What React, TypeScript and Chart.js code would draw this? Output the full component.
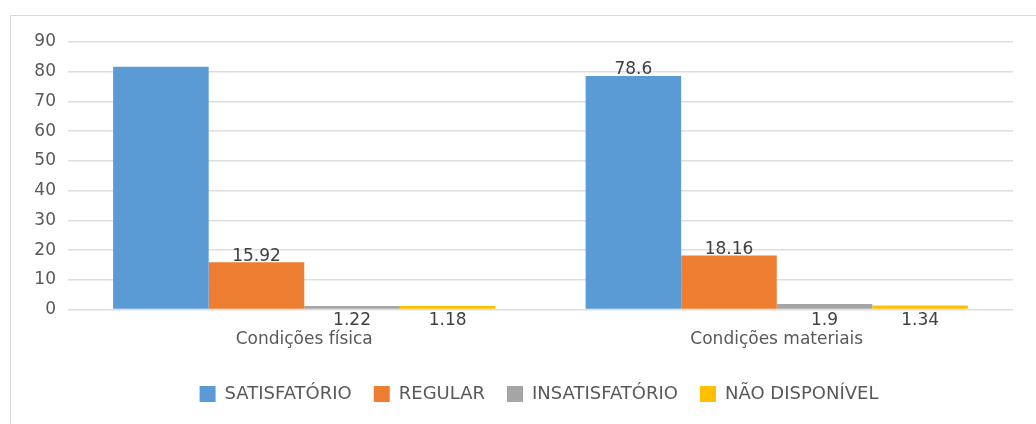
import React, { useEffect, useRef } from "react";
import { Chart, registerables } from "chart.js";

Chart.register(...registerables);

const categories = ["Condições física", "Condições materiais"];
const seriesNames = ["SATISFATÓRIO", "REGULAR", "INSATISFATÓRIO", "NÃO DISPONÍVEL"];
const satisfatorio = [81.68, 78.6];
const regular = [15.92, 18.16];
const insatisfatorio = [1.22, 1.9];
const naoDisponivel = [1.18, 1.34];
const satisfatorioShow = [false, true];
const regularShow = [true, true];
const insatisfatorioShow = [true, true];
const naoDisponivelShow = [true, true];
const seriesColors = ["#5B9BD5", "#ED7D31", "#A5A5A5", "#FFC000"];
const yMin = 0;
const yMax = 90;
const yStep = 10;

const FONT = "DejaVu Sans";

const valueLabelPlugin = {
  id: "valueLabels",
  afterDatasetsDraw(chart: any) {
    const ctx = chart.ctx;
    ctx.save();
    ctx.font = `17px "${FONT}"`;
    ctx.fillStyle = "#404040";
    ctx.textAlign = "center";
    ctx.textBaseline = "middle";
    chart.data.datasets.forEach((ds: any, i: number) => {
      const meta = chart.getDatasetMeta(i);
      meta.data.forEach((bar: any, j: number) => {
        if (!ds.showLabel[j]) return;
        const v = ds.data[j];
        const { x, y, base } = bar.getProps(["x", "y", "base"], true);
        const ty = v > 5 ? y - 6 : base + 12;
        ctx.fillText(String(v), x, ty);
      });
    });
    ctx.restore();
  },
};

const legendShiftPlugin = {
  id: "legendShift",
  afterLayout(chart: any) {
    const lg = chart.legend;
    if (lg) {
      lg.left += 27;
      lg.right += 27;
    }
  },
};

export default function App() {
  const ref = useRef<HTMLCanvasElement | null>(null);
  useEffect(() => {
    if (!ref.current) return;
    const values = [satisfatorio, regular, insatisfatorio, naoDisponivel];
    const shows = [satisfatorioShow, regularShow, insatisfatorioShow, naoDisponivelShow];
    const chart = new Chart(ref.current, {
      type: "bar",
      data: {
        labels: categories,
        datasets: seriesNames.map((name, i) => ({
          label: name,
          data: values[i],
          showLabel: shows[i],
          backgroundColor: seriesColors[i],
          borderColor: seriesColors[i],
          borderWidth: 0,
          barPercentage: 1,
          categoryPercentage: 0.809,
        })) as any,
      },
      options: {
        animation: false,
        responsive: false,
        devicePixelRatio: 1,
        layout: { padding: { left: 0, right: 22, top: 26, bottom: 11 } },
        plugins: {
          tooltip: { enabled: false },
          legend: {
            position: "bottom",
            labels: {
              boxWidth: 16,
              boxHeight: 16,
              padding: 22,
              color: "#595959",
              font: { family: FONT, size: 18 },
            },
          },
        },
        scales: {
          x: {
            grid: { display: false, drawTicks: false },
            border: { display: false },
            afterFit: (s: any) => {
              s.height = s.height - 7;
            },
            ticks: { color: "#595959", padding: 20, font: { family: FONT, size: 17 } },
          },
          y: {
            min: yMin,
            max: yMax,
            afterFit: (s: any) => {
              s.width = 57;
            },
            grid: { color: "#dedede", lineWidth: 1.5, drawTicks: false },
            border: { display: false },
            ticks: { stepSize: yStep, color: "#595959", padding: 12, font: { family: FONT, size: 17 } },
          },
        },
      },
      plugins: [valueLabelPlugin, legendShiftPlugin],
    });
    return () => chart.destroy();
  }, []);

  return (
    <div
      style={{
        position: "absolute",
        left: 10,
        top: 15,
        width: 1026,
        height: 409,
        boxSizing: "border-box",
        borderTop: "1px solid #d9d9d9",
        borderLeft: "1px solid #d9d9d9",
        background: "#fff",
        overflow: "hidden",
      }}
    >
      <canvas ref={ref} width={1024} height={408} style={{ display: "block", width: 1024, height: 408 }} />
    </div>
  );
}
